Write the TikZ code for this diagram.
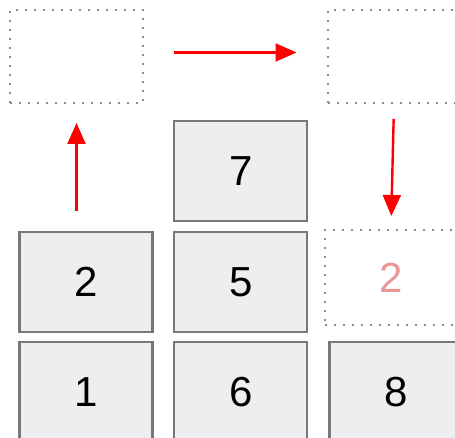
\documentclass[tikz,border=0pt]{standalone}
\usepackage{fontspec}
\setmainfont{Liberation Sans}
\usepackage{xcolor}
\usetikzlibrary{positioning,arrows.meta}
\definecolor{tilefill}{RGB}{238,238,238}
\definecolor{tileedge}{RGB}{120,120,120}
\definecolor{slotedge}{RGB}{140,140,140}
\definecolor{ghosttext}{RGB}{232,150,150}
\tikzset{
  % --- stack tiles -----------------------------------------------------------
  tile/.style={rectangle,draw=tileedge,fill=tilefill,line width=2.2pt,
               minimum width=133pt,minimum height=100pt,inner sep=0pt,
               font=\fontsize{42}{42}\selectfont},
  slot/.style={rectangle,draw=slotedge,line width=2pt,
               dash pattern=on 2pt off 7pt,
               minimum width=133pt,minimum height=93pt,inner sep=0pt,
               font=\fontsize{42}{42}\selectfont},
  % --- moves -----------------------------------------------------------------
  move/.style={-{Triangle[length=21pt,width=18pt]},red,line width=2.4pt},
}
\begin{document}
\begin{tikzpicture}[x=1pt,y=-1pt]
  \useasboundingbox (0,0) rectangle (455,438);
  \node[tile] (b2) at (86,282) {2};
  \node[tile,right=19.5pt of b2] (b5) {5};
  \node[tile,above=9pt of b5] (b7) {7};
  \node[tile,below=8pt of b2] (b1) {1};
  \node[tile,below=8pt of b5] (b6) {6};
  \node[tile,right=20pt of b6] (b8) {8};
  \node[slot] (slotA) at (76.5,56.5) {};
  \node[slot] (slotB) at (394,56.5) {};
  \node[slot,minimum height=95pt,text=ghosttext] (ghost) at (391,277.5) {2};
  \draw[move,shorten <=20pt,shorten >=19pt] (slotA.south |- b2.north) -- (slotA.south);
  \draw[move,shorten <=30pt,shorten >=30pt] ([yshift=4pt]slotA.east) -- ([yshift=4pt]slotB.west);
  \draw[move,shorten <=15pt,shorten >=13pt] (slotB.south) -- (ghost.north);
\end{tikzpicture}
\end{document}
